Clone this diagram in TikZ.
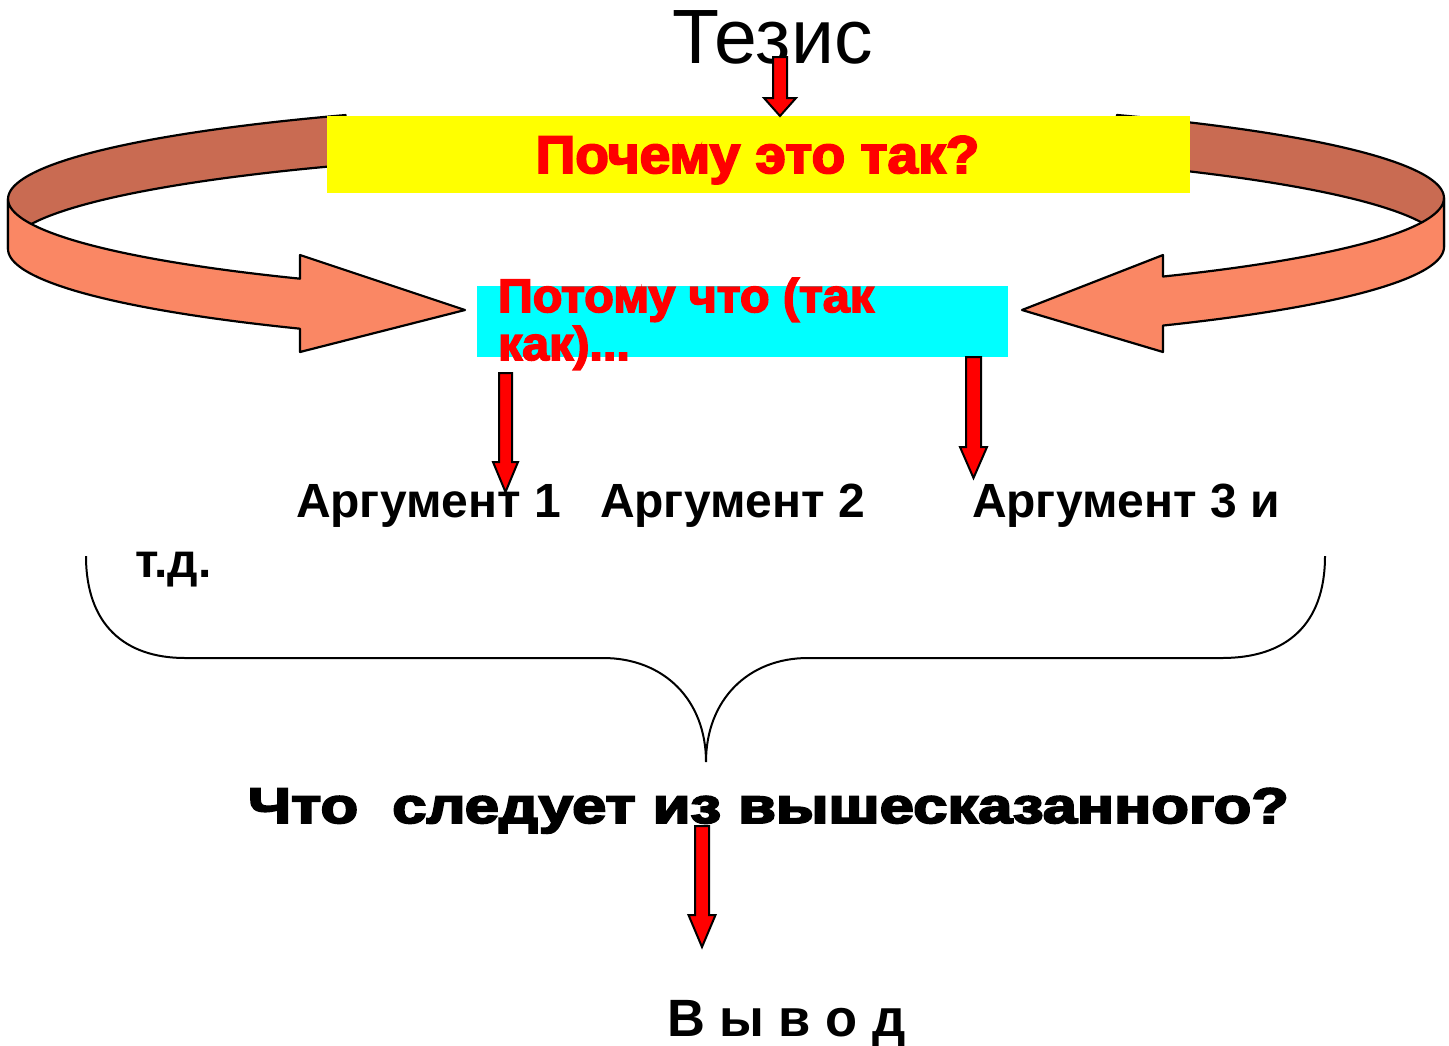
\documentclass[tikz,border=0pt]{standalone}
\usepackage{fontspec}
\usepackage{graphicx}
\setmainfont{Liberation Sans}
\newfontfamily\heavyfont[FakeBold=3.5]{Liberation Sans Bold}
\usetikzlibrary{calc}
\definecolor{darkband}{RGB}{201,107,82}
\definecolor{lightband}{RGB}{250,135,100}
\definecolor{boxyellow}{RGB}{255,255,0}
\definecolor{boxcyan}{RGB}{0,255,255}
\definecolor{txtred}{RGB}{255,0,0}
\newcommand{\blockarr}[5]{%
  \draw[redarr] let \p1=(#1), \p2=(#2) in
   (\x1-#3pt,\y1) -- (\x1-#3pt,\y2+#5pt) -- (\x1-#4pt,\y2+#5pt) -- (\x1,\y2)
   -- (\x1+#4pt,\y2+#5pt) -- (\x1+#3pt,\y2+#5pt) -- (\x1+#3pt,\y1) -- cycle;}
\begin{document}
\begin{tikzpicture}[x=1pt,y=-1pt,
  band/.style={draw=black, line width=2.2pt, line join=round},
  redarr/.style={fill=txtred, draw=black, line width=2pt, line join=miter},
  txt/.style={inner sep=0pt, outer sep=0pt, anchor=base west},
  boxfill/.style={inner sep=0pt, outer sep=0pt},
]
\useasboundingbox (0,0) rectangle (1449,1045);
\fill[white] (0,0) rectangle (1449,1045);

% left ribbon
\draw[band, fill=darkband] plot[domain=238:180, samples=50] ({726+718*cos(\x)},{199+99*sin(\x)})
  -- plot[domain=180:238, samples=50] ({726+718*cos(\x)},{249+99*sin(\x)}) -- cycle;
\draw[band, fill=lightband] plot[domain=180:126.4, samples=50] ({726+718*cos(\x)},{199+99*sin(\x)})
  -- (300,255) -- (465,310) -- (300,352)
  -- plot[domain=126.4:180, samples=50] ({726+718*cos(\x)},{249+99*sin(\x)}) -- cycle;
% right ribbon
\draw[band, fill=darkband] plot[domain=303:360, samples=50] ({726+718*cos(\x)},{198+99*sin(\x)})
  -- plot[domain=360:303, samples=50] ({726+718*cos(\x)},{247+99*sin(\x)}) -- cycle;
\draw[band, fill=lightband] plot[domain=0:52.5, samples=50] ({726+718*cos(\x)},{198+99*sin(\x)})
  -- (1163,255) -- (1022,310) -- (1163,352)
  -- plot[domain=52.5:0, samples=50] ({726+718*cos(\x)},{247+99*sin(\x)}) -- cycle;

% boxes
\node[boxfill, fill=boxyellow, minimum width=863pt, minimum height=77pt] (whybox) at (758.5,154.5) {};
\node[boxfill, fill=boxcyan, minimum width=531pt, minimum height=71pt] (becbox) at (742.5,321.5) {};

% texts
\node[txt] (tezis) at (672,63) {\fontsize{77}{77}\selectfont Тезис};
\node[txt, anchor=base, text=txtred] (why) at (757.5,173) {\scalebox{1.04}[1]{\heavyfont\fontsize{53}{53}\selectfont Почему это так?}};
\node[txt, text=txtred] (bec1) at (498,312) {\scalebox{1.03}[1]{\heavyfont\fontsize{47}{47}\selectfont Потому что (так}};
\node[txt, text=txtred] (bec2) at (498,360) {\scalebox{1.03}[1]{\heavyfont\fontsize{47}{47}\selectfont как)...}};
\node[txt] (arg1) at (296,517) {\bfseries\fontsize{48}{48}\selectfont Аргумент 1};
\node[txt] (arg2) at (600,517) {\bfseries\fontsize{48}{48}\selectfont Аргумент 2};
\node[txt] (arg3) at (972,517) {\bfseries\fontsize{48}{48}\selectfont Аргумент 3 и};
\node[txt] (etc) at (135,577) {\bfseries\fontsize{48}{48}\selectfont т.д.};
\node[txt] (quest) at (248,823) {\scalebox{1.23}[1]{\heavyfont\fontsize{50}{50}\selectfont Что\ \ следует из вышесказанного?}};
\node[txt] (concl) at (667,1036) {\bfseries\fontsize{52.5}{52.5}\selectfont В ы в о д};

% brace
\draw[line width=2pt] (86,556) .. controls (86,625) and (125,658) .. (185,658) -- (603,658)
  .. controls (664,658) and (706,700) .. (706,762)
  .. controls (706,700) and (748,658) .. (808,658) -- (1222,658)
  .. controls (1286,658) and (1325,625) .. (1325,556);

% red arrows
\coordinate (a0s) at (780,57);   \coordinate (a0e) at (whybox.north -| a0s);
\coordinate (a1s) at (505.5,373); \coordinate (a1e) at (505.5,492);
\coordinate (a2s) at (becbox.south -| 973.5,0); \coordinate (a2e) at (973.5,478);
\coordinate (a3s) at (702,826);  \coordinate (a3e) at (702,947);
\blockarr{a0s}{a0e}{7}{16}{18}
\blockarr{a1s}{a1e}{6.5}{12.5}{30}
\blockarr{a2s}{a2e}{7.5}{13.5}{31}
\blockarr{a3s}{a3e}{7}{13.5}{32}
\end{tikzpicture}
\end{document}
